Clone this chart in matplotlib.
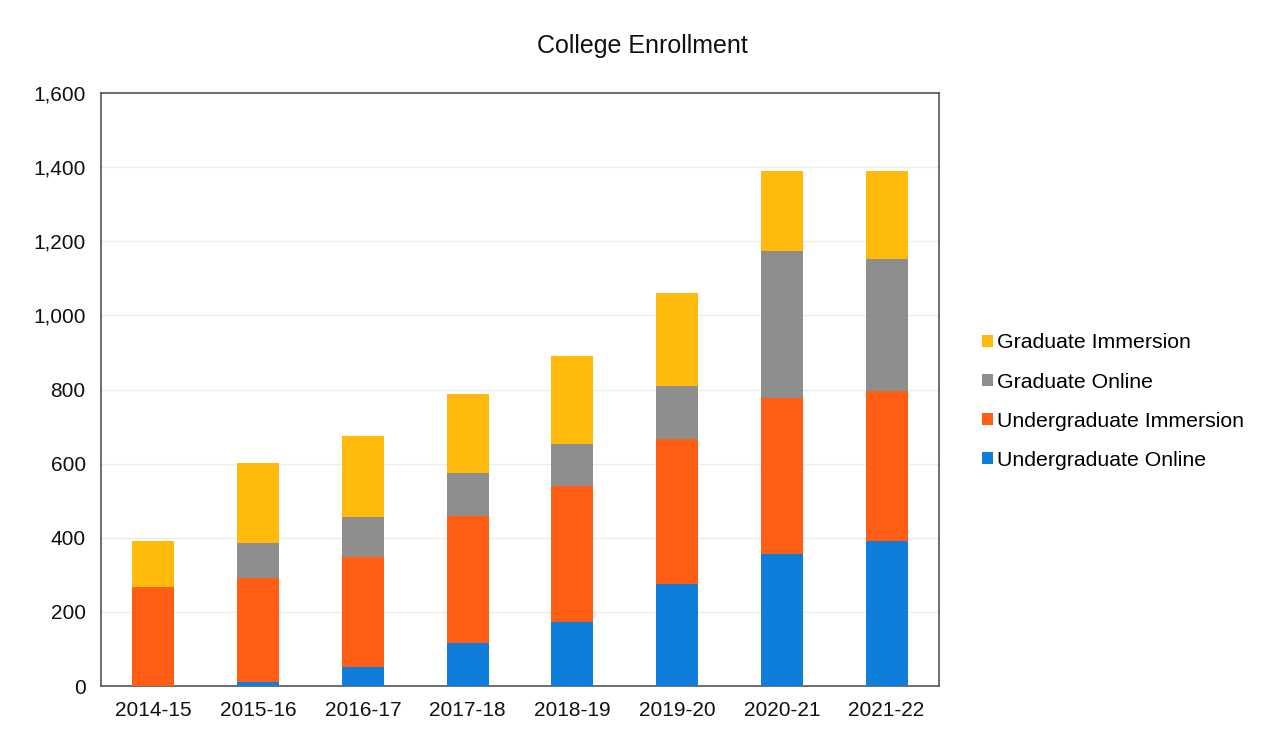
import numpy as np
import matplotlib.pyplot as plt

plt.rcParams['font.family'] = ['Liberation Sans', 'DejaVu Sans']

years = ["2014-15", "2015-16", "2016-17", "2017-18", "2018-19", "2019-20", "2020-21", "2021-22"]
undergrad_online = [0, 12, 51, 116, 172, 275, 357, 391]
undergrad_immersion = [267, 281, 297, 344, 369, 391, 419, 406]
grad_online = [0, 93, 109, 114, 111, 144, 397, 354]
grad_immersion = [125, 215, 218, 214, 239, 251, 217, 239]

series = [
    ("Undergraduate Online", undergrad_online, "#0F7EDB"),
    ("Undergraduate Immersion", undergrad_immersion, "#FF5E14"),
    ("Graduate Online", grad_online, "#8E8E8E"),
    ("Graduate Immersion", grad_immersion, "#FFBA0C"),
]

fig = plt.figure(figsize=(12.72, 7.37), dpi=100)
ax = fig.add_axes([0.0794, 0.069, 0.6588, 0.805])

x = np.arange(len(years))
bottom = np.zeros(len(years))
handles = []
for name, vals, color in series:
    b = ax.bar(x, vals, width=0.4, bottom=bottom, color=color, label=name, zorder=3)
    handles.append(b)
    bottom += np.array(vals)

ax.set_xlim(-0.5, len(years) - 0.5)
ax.set_ylim(0, 1600)
ax.set_yticks(np.arange(0, 1601, 200))
ax.set_yticklabels([f"{v:,}" for v in range(0, 1601, 200)])
ax.set_xticks(x)
ax.set_xticklabels(years)
ax.tick_params(axis='both', length=0, labelsize=15, colors='#111111')
ax.tick_params(axis='y', pad=11)
ax.tick_params(axis='x', pad=11)
ax.yaxis.grid(True, color='#EDEDED', linewidth=1, zorder=0)
for s in ax.spines.values():
    s.set_color('#555555')
    s.set_linewidth(1.2)

fig.text(0.505, 0.938, "College Enrollment", ha='center', va='center', fontsize=18, color='#111111')

fig.legend(handles[::-1], [s[0] for s in series][::-1], loc='center left',
           bbox_to_anchor=(0.757, 0.455), frameon=False, fontsize=15.3,
           handlelength=0.5, handleheight=0.5, handletextpad=0.2, labelspacing=0.95)

fig.savefig("out.png", dpi=100, facecolor='white')
